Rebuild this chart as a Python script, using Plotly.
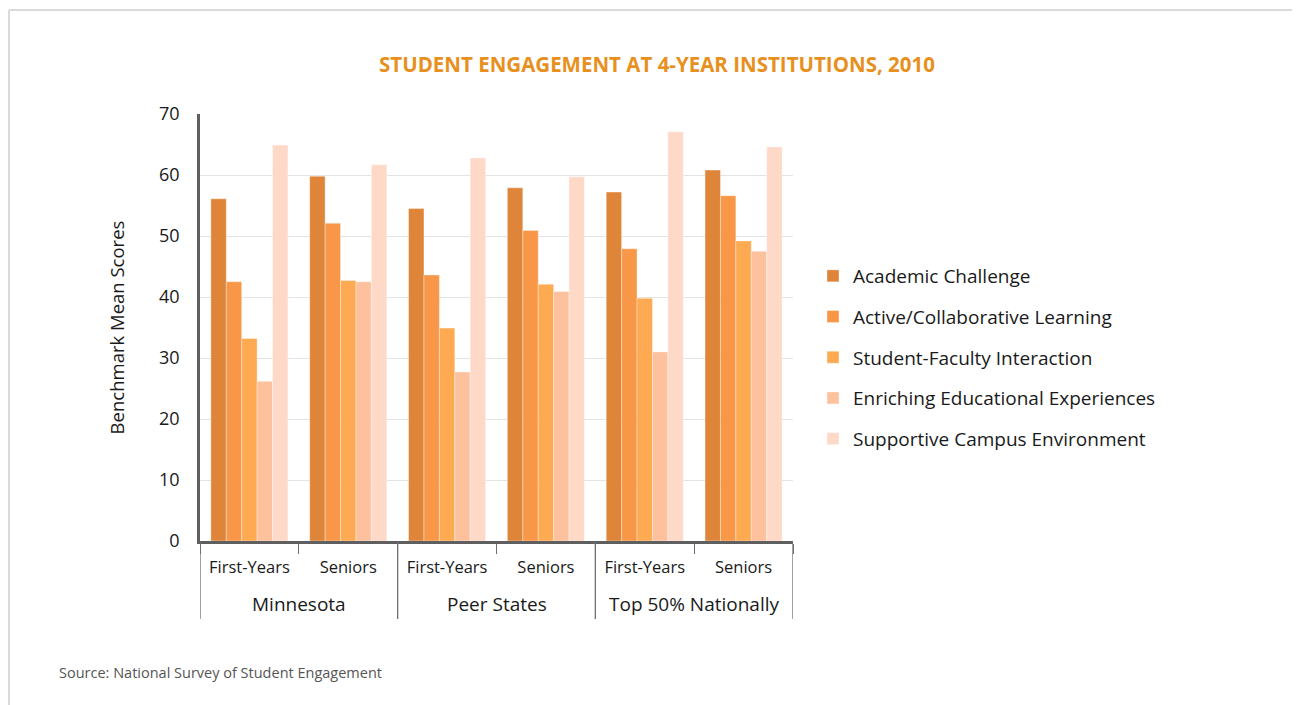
import plotly.graph_objects as go

regions = ["Minnesota", "Peer States", "Top 50% Nationally"]
cohorts = ["First-Years", "Seniors"]

academic_challenge = [56.1, 59.8, 54.5, 57.9, 57.2, 60.8]
active_collaborative = [42.5, 52.1, 43.6, 50.9, 47.9, 56.6]
student_faculty = [33.2, 42.7, 34.9, 42.1, 39.8, 49.2]
enriching_experiences = [26.2, 42.5, 27.7, 40.9, 31.0, 47.5]
supportive_environment = [64.9, 61.7, 62.8, 59.7, 67.1, 64.6]

series_names = ["Academic Challenge", "Active/Collaborative Learning",
                "Student-Faculty Interaction", "Enriching Educational Experiences",
                "Supportive Campus Environment"]
series_values = [academic_challenge, active_collaborative, student_faculty,
                 enriching_experiences, supportive_environment]
colors = ["#DF853A", "#F89747", "#FDAA52", "#FEC19E", "#FED9C7"]

y_ticks = [0, 10, 20, 30, 40, 50, 60, 70]

FONT = "Open Sans"

# unique category keys, one per (region, cohort)
cat_keys = ["%s|%s" % (r, c) for r in regions for c in cohorts]
cat_text = [c for r in regions for c in cohorts]

fig = go.Figure()
for i, (name, vals, col) in enumerate(zip(series_names, series_values, colors)):
    fig.add_trace(go.Bar(
        x=cat_keys, y=vals, name=name,
        marker=dict(color=col, line=dict(color="rgba(255,255,255,0.6)", width=0.6)),
        legendgroup="g%d" % i,
    ))

# the page body adds an 8px offset; work in screen pixels and convert
OFF = 8
W, H = 1300 - OFF, 705 - OFF
ml = 200 - OFF
mt = 114 - OFF
mr = W - (793 - OFF)
mb = H - (541 - OFF)
pw, ph = W - ml - mr, H - mt - mb

def px_x(x):
    return (x - OFF - ml) / pw

def px_y(y):
    return (H - mb - (y - OFF)) / ph

fig.update_layout(
    width=W, height=H,
    margin=dict(l=ml, r=mr, t=mt, b=mb, pad=0),
    paper_bgcolor="white", plot_bgcolor="white",
    barmode="group", bargap=0.22, bargroupgap=0,
    font=dict(family=FONT, color="#1a1a1a"),
    title=dict(text="<b>STUDENT ENGAGEMENT AT 4-YEAR INSTITUTIONS, 2010</b>",
               x=px_x(657), xanchor="center", y=1 - (65 - OFF) / H, yanchor="middle",
               xref="paper",
               font=dict(family=FONT, size=20.5, color="#E8901E")),
    xaxis=dict(
        type="category", categoryorder="array", categoryarray=cat_keys,
        tickvals=cat_keys, ticktext=cat_text,
        range=[-0.5, len(cat_keys) - 0.5],
        showline=True, linecolor="#5f5f5f", linewidth=2.5,
        ticks="outside", tickson="boundaries", tickcolor="#6f6f6f",
        ticklen=10, tickwidth=1.3,
        ticklabelstandoff=9,
        tickfont=dict(family=FONT, size=16.5, color="#1a1a1a"),
        showgrid=False,
    ),
    yaxis=dict(
        range=[0, 70], tickvals=y_ticks, ticks="",
        showline=True, linecolor="#5f5f5f", linewidth=2.5,
        gridcolor="#E3E3E3", gridwidth=1.2, zeroline=False,
        ticklabelstandoff=14,
        tickfont=dict(family=FONT, size=18, color="#1a1a1a"),
        title=dict(text="Benchmark Mean Scores", standoff=30,
                   font=dict(family=FONT, size=18.5, color="#1a1a1a")),
    ),
    legend=dict(x=px_x(813), xanchor="left", y=px_y(257), yanchor="top",
                font=dict(family=FONT, size=19, color="#1a1a1a"),
                tracegroupgap=13, itemwidth=30, bgcolor="rgba(0,0,0,0)"),
    showlegend=True,
)

# region (outer level) labels and dividers
n_c = len(cohorts)
for gi, r in enumerate(regions):
    fig.add_annotation(text=r, xref="x", yref="paper",
                       x=gi * n_c + (n_c - 1) / 2, y=px_y(604),
                       xanchor="center", yanchor="middle", showarrow=False,
                       font=dict(family=FONT, size=19, color="#1a1a1a"))
for gi in range(len(regions) + 1):
    fig.add_shape(type="line", xref="x", yref="paper",
                  x0=gi * n_c - 0.5, x1=gi * n_c - 0.5,
                  y0=0, y1=px_y(619),
                  line=dict(color="#6f6f6f", width=1.3))

fig.add_annotation(text="Source: National Survey of Student Engagement",
                   xref="paper", yref="paper", x=px_x(57), y=px_y(672),
                   xanchor="left", yanchor="middle", showarrow=False,
                   font=dict(family=FONT, size=14.5, color="#555555"))

# frame lines (top and left)
fig.add_shape(type="line", xref="paper", yref="paper",
              x0=px_x(OFF + 1), x1=px_x(1300), y0=px_y(10), y1=px_y(10),
              line=dict(color="#DADADA", width=2))
fig.add_shape(type="line", xref="paper", yref="paper",
              x0=px_x(OFF + 1), x1=px_x(OFF + 1), y0=px_y(10), y1=px_y(705),
              line=dict(color="#DADADA", width=2))

fig.write_html("out.html")
